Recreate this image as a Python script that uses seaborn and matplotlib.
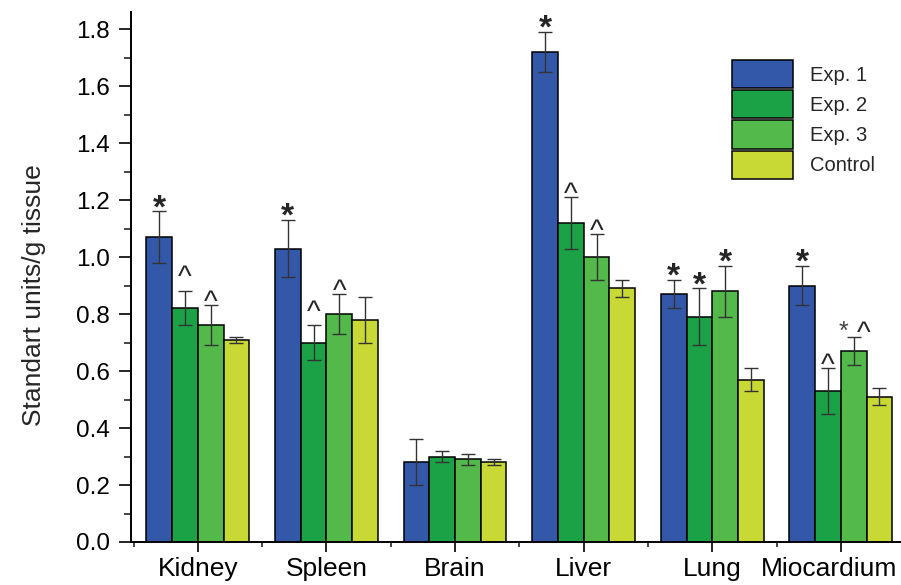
import matplotlib
matplotlib.use("Agg")
import matplotlib.pyplot as plt
import matplotlib.transforms as mtransforms
import numpy as np
import pandas as pd
import seaborn as sns
from matplotlib.container import BarContainer
from matplotlib.ticker import MultipleLocator, FixedLocator

# Organ categories and groups
organs = ["Kidney", "Spleen", "Brain", "Liver", "Lung", "Miocardium"]
groups = ["Exp. 1", "Exp. 2", "Exp. 3", "Control"]

# Mean activity (standart units per g of tissue)
exp1 = [1.07, 1.03, 0.28, 1.72, 0.87, 0.90]
exp2 = [0.82, 0.70, 0.30, 1.12, 0.79, 0.53]
exp3 = [0.76, 0.80, 0.29, 1.00, 0.88, 0.67]
control = [0.71, 0.78, 0.28, 0.89, 0.57, 0.51]

# Error bar half-widths
exp1_err = [0.09, 0.10, 0.08, 0.07, 0.05, 0.07]
exp2_err = [0.06, 0.06, 0.02, 0.09, 0.10, 0.08]
exp3_err = [0.07, 0.07, 0.02, 0.08, 0.09, 0.05]
control_err = [0.01, 0.08, 0.01, 0.03, 0.04, 0.03]

# Significance marks above the bars
exp1_marks = ["*", "*", "", "*", "*", "*"]
exp2_marks = ["^", "^", "", "^", "*", "^"]
exp3_marks = ["^", "^", "", "^", "*", "* ^"]
control_marks = ["", "", "", "", "", ""]

values = [exp1, exp2, exp3, control]
errors = [exp1_err, exp2_err, exp3_err, control_err]
marks = [exp1_marks, exp2_marks, exp3_marks, control_marks]

colors = ["#3358AA", "#1BA247", "#52B94A", "#C8D935"]

df = pd.DataFrame({
    "organ": np.repeat([organs], len(groups), axis=0).ravel(),
    "group": np.repeat(groups, len(organs)),
    "value": np.concatenate(values),
})

sns.set_theme(style="ticks")
plt.rcParams["font.family"] = ["Liberation Sans", "DejaVu Sans"]

W, H = 901, 585
fig = plt.figure(figsize=(W / 100, H / 100), dpi=100)
ax = fig.add_axes([131 / W, 1 - 542 / H, (900 - 131) / W, (542 - 12) / H])

sns.barplot(data=df, x="organ", y="value", hue="group", order=organs,
            hue_order=groups, palette=colors, saturation=1, errorbar=None,
            width=0.8, edgecolor="black", linewidth=1.1, ax=ax)

# Error bars and marks placed on the drawn bars
bar_containers = [c for c in ax.containers if isinstance(c, BarContainer)]
extra_gap = {("Kidney", "Exp. 2"): 7.5, ("Spleen", "Exp. 2"): 7.5}
for gi, cont in enumerate(bar_containers):
    xs = [p.get_x() + p.get_width() / 2 for p in cont.patches]
    ys = [p.get_height() for p in cont.patches]
    ax.errorbar(xs, ys, yerr=errors[gi], fmt="none", ecolor="#333333",
                elinewidth=1.0, capsize=5, capthick=1.0, zorder=5)
    for oi, (x, y) in enumerate(zip(xs, ys)):
        m = marks[gi][oi]
        if not m:
            continue
        top = y + errors[gi][oi]
        tokens = m.split()
        n = len(tokens)
        for ti, tok in enumerate(tokens):
            dx = (ti - (n - 1) / 2) * 15 if n > 1 else 0
            if tok == "*":
                kw = dict(fontsize=24, fontweight="bold") if n == 1 else \
                    dict(fontsize=18, color="#444444")
                dy = -4.2 if n == 1 else -1.5
            else:
                kw = dict(fontsize=21)
                dy = -4.0
            dy += extra_gap.get((organs[oi], groups[gi]), 0)
            ax.annotate(tok, xy=(x, top), xytext=(dx, dy),
                        textcoords="offset points", ha="center",
                        va="baseline", zorder=6, **kw)

ax.set_xlim(-0.52, 5.46)
ax.set_ylim(0, 1.86)
ax.yaxis.set_minor_locator(MultipleLocator(0.1))
yt = np.round(np.arange(0, 1.81, 0.2), 1)
ax.set_yticks(yt)
ax.set_yticklabels([f"{v:.1f}" for v in yt])
ax.xaxis.set_minor_locator(FixedLocator(np.arange(-0.5, 5.0, 1.0)))

ax.tick_params(axis="y", which="major", direction="out", length=8.5,
               width=1.2, labelsize=17.5, pad=6.5, colors="black")
ax.tick_params(axis="y", which="minor", direction="out", length=5,
               width=1.2)
ax.tick_params(axis="x", which="major", direction="out", length=7.5,
               width=1.2, labelsize=19, pad=3, colors="black")
ax.tick_params(axis="x", which="minor", direction="out", length=3.5,
               width=1.2)

# Keep the last category name inside the figure
last = ax.get_xticklabels()[-1]
last.set_transform(last.get_transform() +
                   mtransforms.ScaledTranslation(-0.12, 0, fig.dpi_scale_trans))

sns.despine(ax=ax)
for s in ("left", "bottom"):
    ax.spines[s].set_linewidth(1.4)
    ax.spines[s].set_color("black")

ax.set_xlabel("")
ax.set_ylabel("Standart units/g tissue", fontsize=19)
ax.yaxis.set_label_coords(-85 / 769, 0.465)

handles, labels = ax.get_legend_handles_labels()
ax.get_legend().remove()
fig.legend(handles, labels, loc="upper left",
           bbox_to_anchor=(732 / W, 1 - 60 / H), frameon=False,
           fontsize=14.5, handlelength=3.03, handleheight=1.78,
           handletextpad=0.85, labelspacing=0.1, borderpad=0,
           borderaxespad=0)

fig.savefig("out.png", dpi=100, facecolor="white")
